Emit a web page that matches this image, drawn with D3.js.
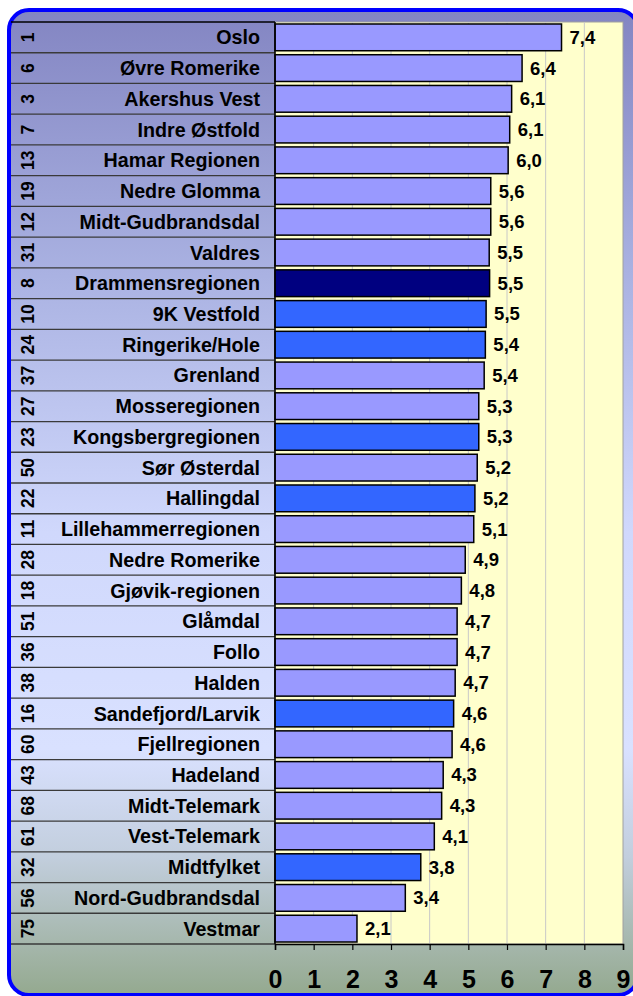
<!DOCTYPE html>
<html lang="no">
<head>
<meta charset="UTF-8" />
<title>Regioner</title>
<style>
  body { margin: 0; background: #ffffff; }
  svg { display: block; font-family: "Liberation Sans", Arial, sans-serif; font-weight: bold; }
</style>
</head>
<body>
<svg width="633" height="996"></svg>
<script src="https://d3js.org/d3.v7.min.js"></script>
<script>
  // data
  const regions = ['Oslo', 'Øvre Romerike', 'Akershus Vest', 'Indre Østfold', 'Hamar Regionen',
    'Nedre Glomma', 'Midt-Gudbrandsdal', 'Valdres', 'Drammensregionen', '9K Vestfold',
    'Ringerike/Hole', 'Grenland', 'Mosseregionen', 'Kongsbergregionen', 'Sør Østerdal',
    'Hallingdal', 'Lillehammerregionen', 'Nedre Romerike', 'Gjøvik-regionen', 'Glåmdal',
    'Follo', 'Halden', 'Sandefjord/Larvik', 'Fjellregionen', 'Hadeland',
    'Midt-Telemark', 'Vest-Telemark', 'Midtfylket', 'Nord-Gudbrandsdal', 'Vestmar'];
  const ranks = [1, 6, 3, 7, 13, 19, 12, 31, 8, 10, 24, 37, 27, 23, 50,
    22, 11, 28, 18, 51, 36, 38, 16, 60, 43, 68, 61, 32, 56, 75];
  const values = [7.41, 6.39, 6.12, 6.07, 6.03, 5.58, 5.58, 5.54, 5.55, 5.46,
    5.44, 5.41, 5.27, 5.27, 5.23, 5.17, 5.14, 4.92, 4.82, 4.71,
    4.71, 4.66, 4.62, 4.58, 4.35, 4.31, 4.12, 3.77, 3.37, 2.12];
  // 0 = other, 1 = highlighted group, 2 = Drammensregionen
  const groups = [0, 0, 0, 0, 0, 0, 0, 0, 2, 1,
    1, 0, 0, 1, 0, 1, 0, 0, 0, 0,
    0, 0, 1, 0, 0, 0, 0, 1, 0, 0];
  const xTicks = [0, 1, 2, 3, 4, 5, 6, 7, 8, 9];

  const barColors = ['#9999ff', '#3366ff', '#000080'];

  const svg = d3.select('svg');
  const plot = { left: 275, right: 623, top: 22, bottom: 944 };
  const panelLeft = 11;

  const defs = svg.append('defs');
  const grad = defs.append('linearGradient')
    .attr('id', 'bg').attr('x1', 0).attr('y1', 0).attr('x2', 0).attr('y2', 1);
  [[0, '#8385c2'], [0.27, '#aab2e2'], [0.53, '#d0d8fc'], [0.75, '#d9e1ff'],
   [0.86, '#c2cedd'], [1, '#94a98f']].forEach(s =>
    grad.append('stop').attr('offset', s[0]).attr('stop-color', s[1]));

  // frame
  svg.append('rect')
    .attr('x', 9).attr('y', 10).attr('width', 629).attr('height', 985)
    .attr('rx', 20)
    .attr('fill', 'url(#bg)')
    .attr('stroke', '#0000ff').attr('stroke-width', 4);

  const x = d3.scaleLinear().domain([0, 9]).range([plot.left, plot.right]);
  const y = d3.scaleBand().domain(regions).range([plot.top, plot.bottom])
    .paddingInner(0.13).paddingOuter(0.065);
  const step = y.step();

  // plot area
  svg.append('rect')
    .attr('x', plot.left).attr('y', plot.top)
    .attr('width', plot.right - plot.left).attr('height', plot.bottom - plot.top)
    .attr('fill', '#ffffcc').attr('stroke', '#a0a0a0').attr('stroke-width', 1);

  svg.append('g').selectAll('line')
    .data(xTicks.slice(1, -1))
    .join('line')
    .attr('x1', d => x(d)).attr('x2', d => x(d))
    .attr('y1', plot.top).attr('y2', plot.bottom)
    .attr('stroke', '#c8c8c8').attr('stroke-width', 1);

  // label panel rows
  const rowLines = d3.range(regions.length + 1).map(i => plot.top + i * step);
  svg.append('g').selectAll('line')
    .data(rowLines)
    .join('line')
    .attr('x1', panelLeft).attr('x2', plot.left)
    .attr('y1', d => d).attr('y2', d => d)
    .attr('stroke', (d, i) => i === 0 ? '#000' : '#3a3a3a')
    .attr('stroke-width', (d, i) => i === 0 ? 1.5 : 1.3);

  // bars
  svg.append('g').selectAll('rect')
    .data(regions)
    .join('rect')
    .attr('x', plot.left)
    .attr('y', d => y(d))
    .attr('width', (d, i) => x(values[i]) - plot.left)
    .attr('height', y.bandwidth())
    .attr('fill', (d, i) => barColors[groups[i]])
    .attr('stroke', '#000').attr('stroke-width', 1.5);

  const fmt = v => d3.format('.1f')(v).replace('.', ',');

  svg.append('g').selectAll('text')
    .data(regions)
    .join('text')
    .attr('x', (d, i) => x(values[i]) + 8)
    .attr('y', d => y(d) + y.bandwidth() / 2 + 6.5)
    .attr('font-size', 18.5)
    .attr('fill', '#000')
    .text((d, i) => fmt(values[i]));

  // category labels
  svg.append('g').selectAll('text')
    .data(regions)
    .join('text')
    .attr('x', 260)
    .attr('y', d => plot.top + regions.indexOf(d) * step + step / 2 + 7)
    .attr('text-anchor', 'end')
    .attr('font-size', 19.7)
    .attr('fill', '#000')
    .text(d => d);

  // rank numbers, rotated
  svg.append('g').selectAll('text')
    .data(ranks)
    .join('text')
    .attr('transform', (d, i) =>
      `translate(34,${plot.top + i * step + step / 2}) rotate(-90)`)
    .attr('text-anchor', 'middle')
    .attr('font-size', 17.5)
    .attr('fill', '#000')
    .text(d => d);

  // x axis
  const axis = svg.append('g')
    .attr('transform', `translate(0,${plot.bottom})`)
    .call(d3.axisBottom(x).tickValues(xTicks).tickSize(6).tickPadding(20));
  axis.select('.domain').attr('stroke', '#000').attr('stroke-width', 1.5);
  axis.selectAll('.tick line').attr('stroke', '#000').attr('stroke-width', 1.2);
  axis.selectAll('.tick text')
    .attr('font-size', 25).attr('font-weight', 'bold')
    .attr('font-family', '"Liberation Sans", Arial, sans-serif')
    .attr('fill', '#000');

  // left axis line
  svg.append('line')
    .attr('x1', plot.left).attr('x2', plot.left)
    .attr('y1', plot.top).attr('y2', plot.bottom)
    .attr('stroke', '#000').attr('stroke-width', 1.5);
</script>
</body>
</html>
